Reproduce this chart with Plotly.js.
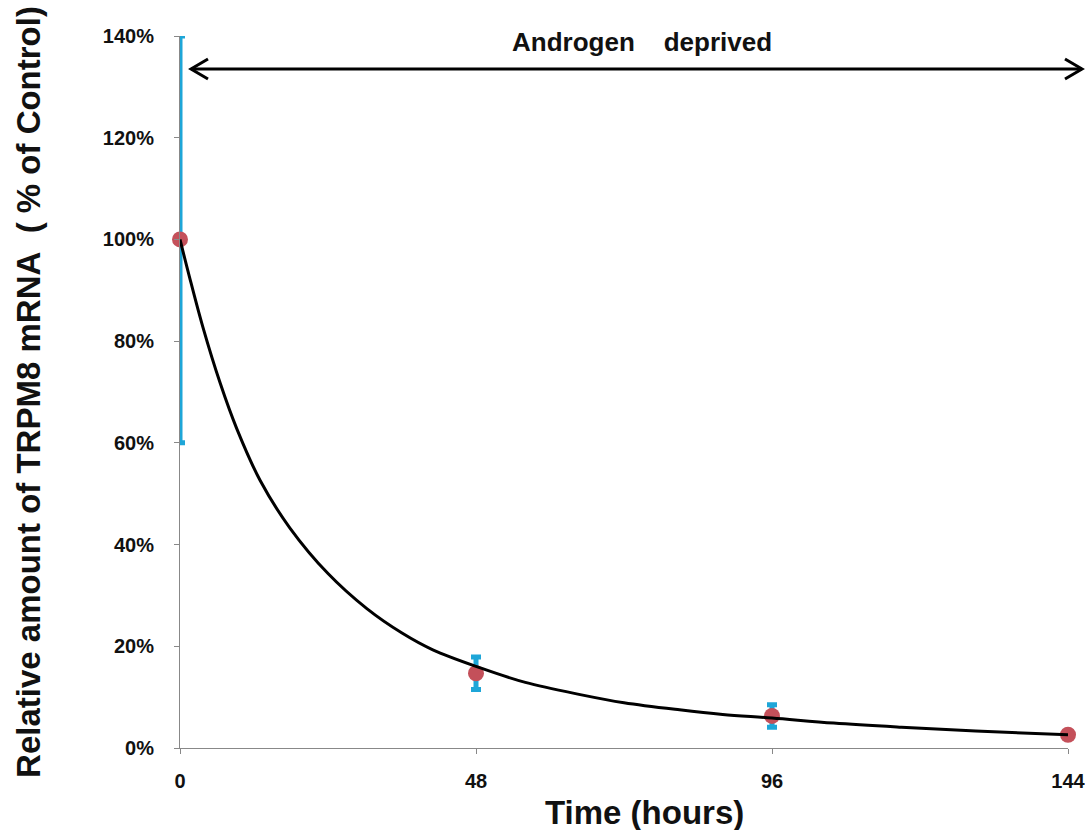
<!DOCTYPE html>
<html>
<head>
<meta charset="utf-8">
<script src="https://cdn.plot.ly/plotly-3.0.1.min.js"></script>
<style>html,body{margin:0;padding:0;background:#fff;}#chart{width:1085px;height:830px;}</style>
</head>
<body>
<div id="chart"></div>
<script>
// Measured points
var timeHours = [0, 48, 96, 144];
var relativeAmount = [100, 14.7, 6.3, 2.6];
var errorAmount = [40, 3.2, 2.2, 0.3];

// Fitted curve
var curveTime = [0, 1.5, 3.7, 6.5, 9.2, 13, 17.8, 24, 30.3, 36, 41, 48.6, 56, 64.9, 72, 81, 88, 96, 106, 117, 130, 144];
var curveValue = [100, 92.8, 82.8, 71.8, 62.8, 52.6, 43.3, 34.3, 27.4, 22.6, 19.3, 15.8, 12.9, 10.5, 8.9, 7.5, 6.6, 5.9, 4.9, 4.1, 3.3, 2.6];

var xTicks = [0, 48, 96, 144];
var yTicks = [0, 20, 40, 60, 80, 100, 120, 140];
var yTickText = ['0%', '20%', '40%', '60%', '80%', '100%', '120%', '140%'];

var boldFont = 'Liberation Sans, Arial, sans-serif';

var traces = [
  {
    x: timeHours, y: relativeAmount, type: 'scatter', mode: 'markers',
    marker: {size: 16, color: '#c4505a', line: {width: 0}},
    error_y: {type: 'data', array: errorAmount, visible: true, color: '#1ea6d8', thickness: 5, width: 5},
    cliponaxis: false, hoverinfo: 'x+y', showlegend: false
  },
  {
    x: curveTime, y: curveValue, type: 'scatter', mode: 'lines',
    line: {color: '#000', width: 3, shape: 'spline', smoothing: 1},
    cliponaxis: false, hoverinfo: 'skip', showlegend: false
  }
];

// Plot area: left 180, right 1068, top 36, bottom 748
var L = 180, R = 1068, T = 36, B = 748;
function px(xp) { return (xp - L) / (R - L); }
function py(yp) { return (B - yp) / (B - T); }

var arrowY = 69;
var shapes = [
  {type: 'line', xref: 'paper', yref: 'paper', x0: px(191), x1: px(1082), y0: py(arrowY), y1: py(arrowY), line: {color: '#000', width: 3}},
  {type: 'path', xref: 'paper', yref: 'paper',
   path: 'M' + px(208) + ',' + py(arrowY - 10) + ' L' + px(191) + ',' + py(arrowY) + ' L' + px(208) + ',' + py(arrowY + 10),
   line: {color: '#000', width: 3}},
  {type: 'path', xref: 'paper', yref: 'paper',
   path: 'M' + px(1065) + ',' + py(arrowY - 10) + ' L' + px(1082) + ',' + py(arrowY) + ' L' + px(1065) + ',' + py(arrowY + 10),
   line: {color: '#000', width: 3}}
];

var layout = {
  width: 1085, height: 830,
  margin: {l: L, r: 1085 - R, t: T, b: 830 - B, pad: 0},
  paper_bgcolor: '#fff', plot_bgcolor: '#fff',
  showlegend: false,
  xaxis: {
    range: [0, 144], tickvals: xTicks, ticktext: xTicks.map(String),
    showgrid: false, zeroline: false, showline: true, linecolor: '#888', linewidth: 1,
    ticks: 'outside', ticklen: 5, tickcolor: '#888',
    tickfont: {family: boldFont, size: 20, color: '#111', weight: 'bold'},
    ticklabelstandoff: 10, ticklabeloverflow: 'allow'
  },
  yaxis: {
    range: [0, 140], tickvals: yTicks, ticktext: yTickText,
    showgrid: false, zeroline: false, showline: true, linecolor: '#888', linewidth: 1,
    ticks: 'outside', ticklen: 5, tickcolor: '#888',
    tickfont: {family: boldFont, size: 20, color: '#111', weight: 'bold'},
    ticklabelstandoff: 16, ticklabeloverflow: 'allow',
    title: {text: 'Relative amount of TRPM8 mRNA\u00a0\u00a0( % of Control)', font: {family: boldFont, size: 33, color: '#111', weight: 'bold'}, standoff: 52}
  },
  shapes: shapes,
  annotations: [
    {text: 'Androgen\u00a0\u00a0\u00a0\u00a0deprived', xref: 'paper', yref: 'paper', x: px(642), y: py(42),
     showarrow: false, xanchor: 'center', yanchor: 'middle', font: {family: boldFont, size: 26, color: '#111', weight: 'bold'}},
    {text: 'Time (hours)', xref: 'paper', yref: 'paper', x: px(644), y: py(812),
     showarrow: false, xanchor: 'center', yanchor: 'middle', font: {family: boldFont, size: 33, color: '#111', weight: 'bold'}}
  ]
};

Plotly.newPlot('chart', traces, layout, {displayModeBar: false, staticPlot: true});
</script>
</body>
</html>
